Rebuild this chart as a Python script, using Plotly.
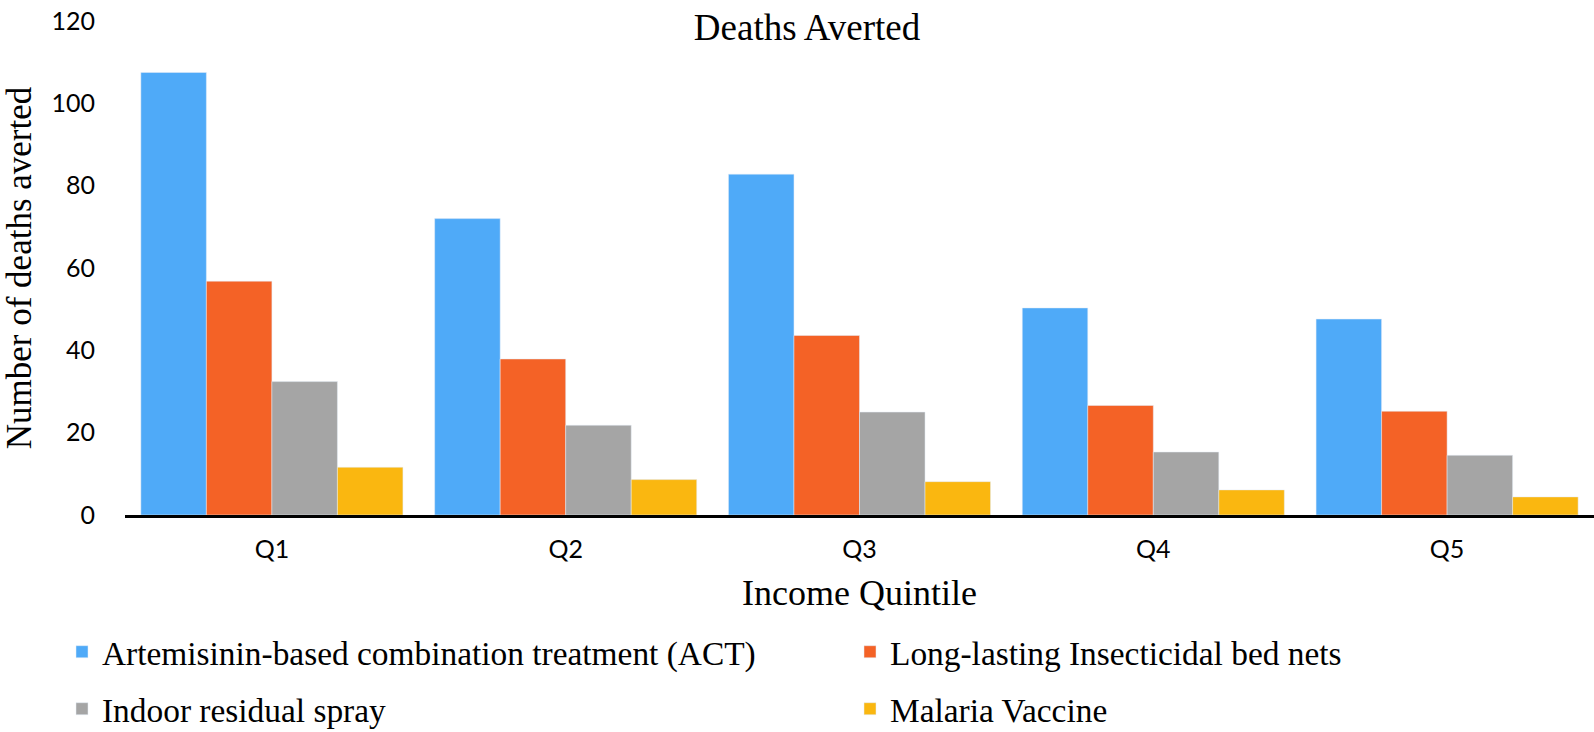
import plotly.graph_objects as go

categories = ["Q1", "Q2", "Q3", "Q4", "Q5"]
act = [107.5, 72.0, 82.8, 50.3, 47.6]
llin = [56.8, 37.9, 43.6, 26.6, 25.2]
irs = [32.4, 21.8, 25.0, 15.3, 14.5]
vaccine = [11.6, 8.6, 8.1, 6.1, 4.4]

series_names = [
    "Artemisinin-based combination treatment (ACT)",
    "Long-lasting Insecticidal bed nets",
    "Indoor residual spray",
    "Malaria Vaccine",
]
series_values = [act, llin, irs, vaccine]
colors = ["#4FAAF8", "#F46226", "#A5A5A5", "#FAB710"]
y_ticks = [0, 20, 40, 60, 80, 100, 120]

W, H = 1594, 732
L, R, T, B = 125, 0, 21, 217
serif = "Liberation Serif"
sans = "Lato"

legend_ids = ["legend", "legend2", "legend3", "legend4"]
fig = go.Figure()
for name, vals, col, lg in zip(series_names, series_values, colors, legend_ids):
    fig.add_trace(go.Bar(x=categories, y=vals, name=name, marker_color=col,
                         legend=lg))

plot_w = W - L - R


def px_to_paper_x(px):
    return (px - L) / plot_w


legend_pos = {
    "legend": (62, 652),
    "legend2": (850, 652),
    "legend3": (62, 709),
    "legend4": (850, 709),
}
legend_layout = {}
for lg, (lx, ly) in legend_pos.items():
    legend_layout[lg] = dict(
        x=px_to_paper_x(lx), xanchor="left",
        y=1 - ly / H, yref="container", yanchor="middle",
        orientation="h", font=dict(family=serif, size=33.4, color="#000000"),
        bgcolor="rgba(0,0,0,0)", borderwidth=0,
    )

fig.update_layout(
    width=W, height=H,
    font=dict(family=serif, size=34, color="#000000"),
    margin=dict(l=L, r=R, t=T, b=B, autoexpand=False),
    paper_bgcolor="white", plot_bgcolor="white",
    barmode="group", bargap=0.108, bargroupgap=0,
    showlegend=True,
    title=dict(text="Deaths Averted", x=807 / W, xref="container", xanchor="center",
               y=1 - 27 / H, yref="container", yanchor="middle",
               font=dict(family=serif, size=37, color="#000000")),
    **legend_layout,
)

fig.update_xaxes(
    showline=True, linecolor="#000000", linewidth=3, ticks="",
    showgrid=False, zeroline=False,
    tickfont=dict(family=sans, size=25, color="#000000"),
    ticklabelstandoff=10,
    title=dict(text="Income Quintile", standoff=18,
               font=dict(family=serif, size=36, color="#000000")),
)
fig.update_yaxes(
    range=[0, 120], tickvals=y_ticks, showgrid=False, zeroline=False,
    showline=False, ticks="", ticklabeloverflow="allow",
    tickfont=dict(family=sans, size=25, color="#000000"),
    ticklabelstandoff=29,
    title=dict(text="Number of deaths averted", standoff=25,
               font=dict(family=serif, size=35, color="#000000")),
)

fig.write_html("out.html", config={"displayModeBar": False},
               post_script="document.body.style.margin='0';")
